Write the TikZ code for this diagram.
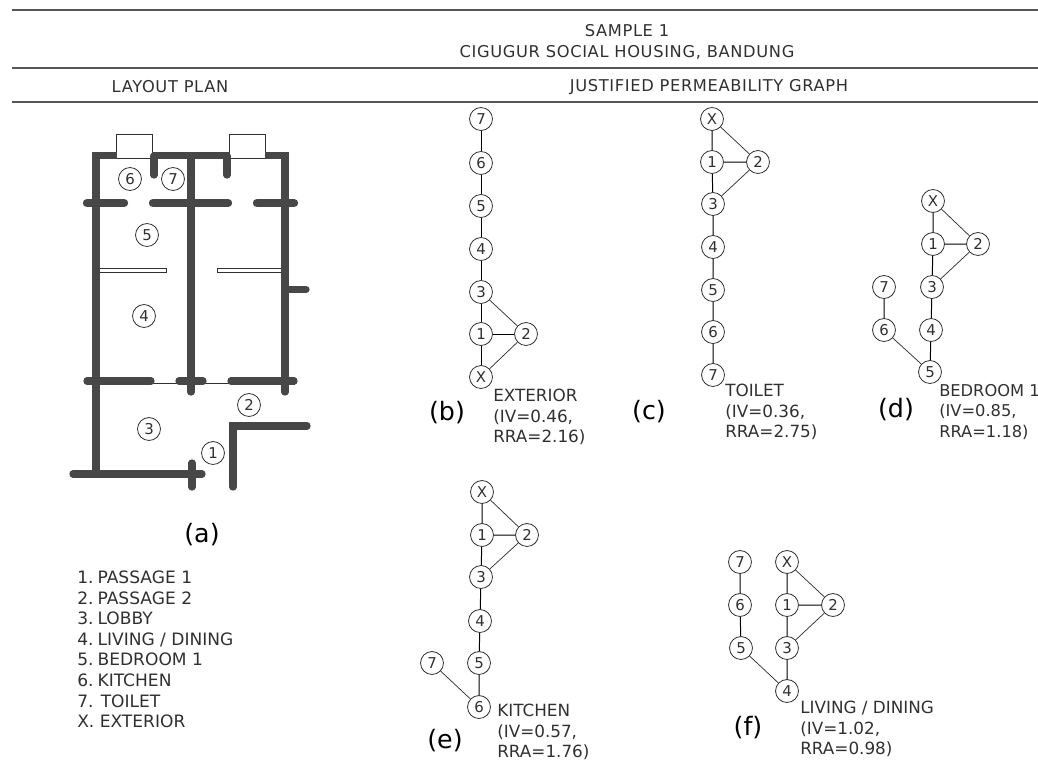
\documentclass[tikz,border=0pt]{standalone}
\usepackage{fontspec}
\setmainfont{DejaVu Sans}
\newfontfamily\spaced[LetterSpace=4]{DejaVu Sans}
\definecolor{wallc}{HTML}{474747}
\definecolor{inkc}{HTML}{303030}
\definecolor{rulec}{HTML}{555555}
\tikzset{
  px/.style={x=0.75pt,y=-0.75pt},
  room/.style={circle,draw=inkc,line width=0.6pt,fill=white,inner sep=0pt,minimum size=17.2pt,text=inkc,font=\fontsize{11.2}{12}\selectfont},
  edge/.style={draw=black,line width=0.75pt},
  diag/.style={draw=inkc,line width=0.55pt},
  wall/.style={draw=wallc,line width=5.5pt,line cap=round,line join=miter},
  wallb/.style={draw=wallc,line width=6.3pt,line cap=round},
  thin/.style={draw=inkc,line width=0.6pt},
  rulel/.style={draw=rulec,line width=1.1pt},
  head/.style={text=inkc,inner sep=0pt,align=center,font=\spaced\fontsize{12.2}{15.6}\selectfont},
  lab/.style={text=inkc,inner sep=0pt,align=left,anchor=west,font=\fontsize{12.6}{15.2}\selectfont},
  tag/.style={text=black,inner sep=0pt,font=\fontsize{19}{22}\selectfont},
}
\begin{document}
\begin{tikzpicture}[px]
\useasboundingbox (0,0) rectangle (1038,760);
\draw[rulel] (12,10) -- (1038,10);
\draw[rulel] (12,68) -- (1038,68);
\draw[rulel] (12,102) -- (1038,102);
\node[head] (title) at (627,42) {SAMPLE 1\\CIGUGUR SOCIAL HOUSING, BANDUNG};
\node[head] (hleft) at (170,87) {LAYOUT PLAN};
\node[head] (hright) at (709,87) {JUSTIFIED PERMEABILITY GRAPH};
% plan
\draw[thin] (116,157) -- (116,134) -- (152,134) -- (152,157);
\draw[thin] (116,158.5) -- (152,158.5);
\draw[thin] (229,157) -- (229,134) -- (265,134) -- (265,157);
\draw[thin] (229,158.5) -- (265,158.5);
\draw[thin] (99,268) rectangle (166,272);
\draw[thin] (217,268) rectangle (282,272);
\draw[thin] (152,383) -- (177,383);
\draw[thin] (204,383) -- (229,383);
\draw[wall,line cap=butt] (117,155.5) -- (96,155.5) -- (96,473);
\draw[wall,line cap=butt] (152,155.5) -- (230,155.5);
\draw[wall,line cap=butt] (265,155.5) -- (285,155.5) -- (285,380);
\draw[wall] (285,380) -- (285,392);
\draw[wall] (154,156) -- (154,175);
\draw[wall] (227,156) -- (227,175);
\draw[wall] (191,156) -- (191,392);
\draw[wall] (287,289.5) -- (306,289.5);
\draw[wallb] (87,203) -- (124,203);
\draw[wallb] (153,203) -- (228,203);
\draw[wallb] (257,203) -- (294,203);
\draw[wall] (87,381) -- (151,381);
\draw[wall] (179,381) -- (203,381);
\draw[wall] (231,381) -- (294,381);
\draw[wall] (73,474) -- (202,474);
\draw[wall] (192,463) -- (192,487);
\draw[wall,line join=miter] (233,487) -- (233,426) -- (307,426);
\foreach \n/\lbl/\p in {p6/6/{130,179},p7/7/{173,179},p5/5/{147,235},p4/4/{144,316},p3/3/{149,429},p2/2/{249,405},p1/1/{213,453}}{
  \node[room] (\n) at (\p) {\lbl};
}
\node[tag] (ta) at (202,535) {(a)};
\node[lab,font=\fontsize{12.8}{15.4}\selectfont] (legend) at (77,649.5) {1. \kern-2.4pt PASSAGE 1\\2. \kern-2.4pt PASSAGE 2\\3. \kern-2.4pt LOBBY\\4. \kern-2.4pt LIVING / DINING\\5. \kern-2.4pt BEDROOM 1\\6. \kern-2.4pt KITCHEN\\7. TOILET\\X. EXTERIOR};
% b
\node[room] (b7) at (481,119) {7};
\node[room] (b6) at (481,163) {6};
\node[room] (b5) at (481,206) {5};
\node[room] (b4) at (481,249) {4};
\node[room] (b3) at (481,292) {3};
\node[room] (b1) at (481,334) {1};
\node[room] (b2) at (526,334) {2};
\node[room] (bx) at (481,377) {X};
\path[edge] (b7)--(b6) (b6)--(b5) (b5)--(b4) (b4)--(b3) (b3)--(b1) (b1)--(bx) (b1)--(b2);
\path[diag] (b3)--(b2) (bx)--(b2);
\node[tag] (tb) at (447,413) {(b)};
\node[lab] (lb) at (493,417) {EXTERIOR\\(IV=0.46,\\RRA=2.16)};
% c
\node[room] (cx) at (712,119) {X};
\node[room] (c1) at (712,162) {1};
\node[room] (c2) at (758,162) {2};
\node[room] (c3) at (713,204) {3};
\node[room] (c4) at (713,247) {4};
\node[room] (c5) at (713,290) {5};
\node[room] (c6) at (713,332) {6};
\node[room] (c7) at (713,375) {7};
\path[edge] (cx)--(c1) (c1)--(c3) (c3)--(c4) (c4)--(c5) (c5)--(c6) (c6)--(c7) (c1)--(c2);
\path[diag] (cx)--(c2) (c3)--(c2);
\node[tag] (tc) at (649,412) {(c)};
\node[lab] (lc) at (725,412) {TOILET\\(IV=0.36,\\RRA=2.75)};
% d
\node[room] (dx) at (933,201) {X};
\node[room] (d1) at (933,244) {1};
\node[room] (d2) at (978,244) {2};
\node[room] (d3) at (932,287) {3};
\node[room] (d4) at (931,330) {4};
\node[room] (d5) at (930,372) {5};
\node[room] (d6) at (884,330) {6};
\node[room] (d7) at (884,287) {7};
\path[edge] (dx)--(d1) (d1)--(d3) (d3)--(d4) (d4)--(d5) (d1)--(d2) (d7)--(d6);
\path[diag] (dx)--(d2) (d3)--(d2) (d6)--(d5);
\node[tag] (td) at (896,410) {(d)};
\node[lab,font=\fontsize{12.2}{15.2}\selectfont] (ld) at (939,412) {BEDROOM 1\\(IV=0.85,\\RRA=1.18)};
% e
\node[room] (ex) at (482,492) {X};
\node[room] (e1) at (482,535) {1};
\node[room] (e2) at (527,535) {2};
\node[room] (e3) at (481,577) {3};
\node[room] (e4) at (480,621) {4};
\node[room] (e5) at (479,663) {5};
\node[room] (e6) at (479,707) {6};
\node[room] (e7) at (432,663) {7};
\path[edge] (ex)--(e1) (e1)--(e3) (e3)--(e4) (e4)--(e5) (e5)--(e6) (e1)--(e2);
\path[diag] (ex)--(e2) (e3)--(e2) (e7)--(e6);
\node[tag] (te) at (445,741) {(e)};
\node[lab] (le) at (497,732) {KITCHEN\\(IV=0.57,\\RRA=1.76)};
% f
\node[room] (f7) at (740,562) {7};
\node[room] (f6) at (740,605) {6};
\node[room] (f5) at (741,648) {5};
\node[room] (f4) at (787,691) {4};
\node[room] (f3) at (787,648) {3};
\node[room] (f1) at (787,605) {1};
\node[room] (f2) at (833,605) {2};
\node[room] (fx) at (787,562) {X};
\path[edge] (f7)--(f6) (f6)--(f5) (fx)--(f1) (f1)--(f3) (f3)--(f4) (f1)--(f2);
\path[diag] (fx)--(f2) (f3)--(f2) (f5)--(f4);
\node[tag] (tf) at (748,728) {(f)};
\node[lab] (lf) at (800,729) {LIVING / DINING\\(IV=1.02,\\RRA=0.98)};
\end{tikzpicture}
\end{document}
